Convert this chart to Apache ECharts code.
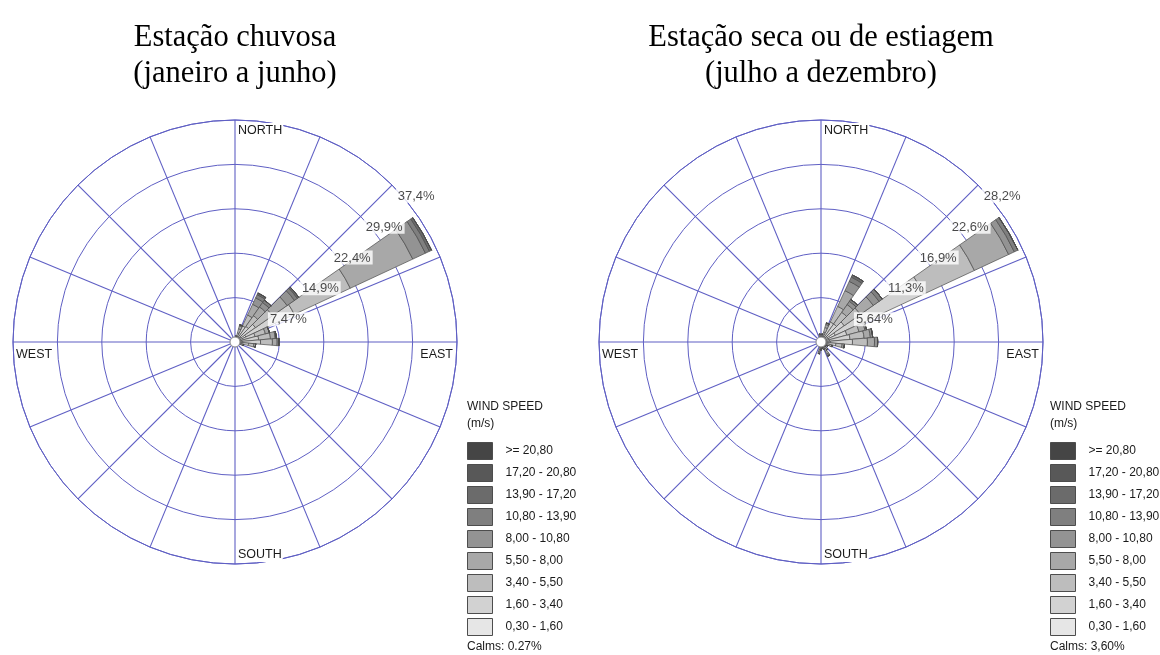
<!DOCTYPE html>
<html><head><meta charset="utf-8">
<script src="https://cdn.jsdelivr.net/npm/echarts@6/dist/echarts.min.js"></script>
<style>html,body{margin:0;padding:0;background:#fff}#c{width:1160px;height:655px}</style>
</head><body><div id="c"></div>
<script>
// ---------- DATA ----------
const directions = ['0','10','20','30','40','50','60','70','80','90','100','110','120','130','140','150','160','170',
  '180','190','200','210','220','230','240','250','260','270','280','290','300','310','320','330','340','350'];
const spokeBearings = [0,22.5,45,67.5,90,112.5,135,157.5,180,202.5,225,247.5,270,292.5,315,337.5];
const speedClasses = ['0,30 - 1,60','1,60 - 3,40','3,40 - 5,50','5,50 - 8,00','8,00 - 10,80',
  '10,80 - 13,90','13,90 - 17,20','17,20 - 20,80','>= 20,80'];
const classColors = ['#e6e6e6','#d2d2d2','#bdbdbd','#a8a8a8','#939393','#7f7f7f','#6b6b6b','#585858','#454545'];

// Left rose: rainy season (% frequency per direction, per speed class)
const leftC1 = [0.2,0.3,0.6,1.0,1.0,1.2,2.0,1.0,1.2,1.3,0.8,0.5,0.4,0.3,0.3,0.2,0.2,0.2,0.2,0.2,0.2,0.1,0.1,0.1,0.1,0.1,0.1,0.1,0.1,0.1,0.1,0.1,0.2,0.2,0.2,0.2];
const leftC2 = [0.2,0.4,1.0,2.0,2.2,3.0,9.0,2.5,2.8,3.0,1.5,0.6,0.3,0.2,0.15,0.15,0.1,0.1,0.1,0.1,0.1,0.1,0.1,0.1,0.1,0.1,0.1,0.1,0.1,0.1,0.1,0.1,0.1,0.1,0.1,0.15];
const leftC3 = [0.1,0.2,0.7,2.0,2.2,3.5,10.4,1.8,2.0,2.0,0.9,0.3,0.1,0,0,0,0,0,0,0,0,0,0,0,0,0,0,0,0,0,0,0,0,0,0,0.05];
const leftC4 = [0,0.1,0.5,2.0,1.8,3.0,11.6,0.7,0.8,0.8,0.3,0.1,0,0,0,0,0,0,0,0,0,0,0,0,0,0,0,0,0,0,0,0,0,0,0,0];
const leftC5 = [0,0,0.2,1.2,0.9,1.5,2.35,0,0.2,0.3,0,0,0,0,0,0,0,0,0,0,0,0,0,0,0,0,0,0,0,0,0,0,0,0,0,0];
const leftC6 = [0,0,0,0.6,0.5,0.6,0.75,0,0,0,0,0,0,0,0,0,0,0,0,0,0,0,0,0,0,0,0,0,0,0,0,0,0,0,0,0];
const leftC7 = [0,0,0,0.3,0,0.3,0.4,0,0,0,0,0,0,0,0,0,0,0,0,0,0,0,0,0,0,0,0,0,0,0,0,0,0,0,0,0];
const leftC8 = [0,0,0,0,0,0,0,0,0,0,0,0,0,0,0,0,0,0,0,0,0,0,0,0,0,0,0,0,0,0,0,0,0,0,0,0];
const leftC9 = [0,0,0,0,0,0,0,0,0,0,0,0,0,0,0,0,0,0,0,0,0,0,0,0,0,0,0,0,0,0,0,0,0,0,0,0];
const leftRingLabels = ['7,47%','14,9%','22,4%','29,9%','37,4%'];
const leftRingStep = 7.47;
const leftCalms = 'Calms: 0.27%';

// Right rose: dry season
const rightC1 = [0.2,0.3,0.5,0.8,0.8,1.0,2.0,1.0,1.1,1.2,0.7,0.5,0.4,0.3,0.3,0.3,0.3,0.3,0.3,0.3,0.2,0.2,0.2,0.2,0.2,0.2,0.2,0.2,0.2,0.2,0.2,0.2,0.2,0.2,0.2,0.3];
const rightC2 = [0.2,0.3,0.8,2.0,2.0,2.6,12.4,2.4,2.6,2.8,1.2,0.6,0.4,0.3,0.4,0.5,0.3,0.3,0.3,0.4,0.2,0.1,0.1,0.1,0.1,0.1,0.1,0.1,0.1,0.1,0.1,0.1,0.1,0.1,0.1,0.3];
const rightC3 = [0.2,0.2,0.6,2.2,1.8,2.5,7.1,1.6,1.8,1.9,0.8,0.3,0.2,0.2,0.3,0.5,0.2,0.2,0.2,0.3,0.1,0,0,0,0,0,0,0,0,0,0,0,0,0,0,0.2];
const rightC4 = [0,0.2,0.4,2.2,1.2,2.0,4.8,0.8,0.8,0.9,0.3,0.1,0,0,0.2,0.4,0.2,0,0.2,0.3,0,0,0,0,0,0,0,0,0,0,0,0,0,0,0,0.2];
const rightC5 = [0,0,0.2,1.3,0.5,0.9,0.8,0.2,0.3,0.4,0,0,0,0,0,0.2,0,0,0,0.2,0,0,0,0,0,0,0,0,0,0,0,0,0,0,0,0];
const rightC6 = [0,0,0,0.6,0.3,0.5,0.5,0,0,0,0,0,0,0,0,0.1,0,0,0,0,0,0,0,0,0,0,0,0,0,0,0,0,0,0,0,0];
const rightC7 = [0,0,0,0.3,0,0,0,0,0,0,0,0,0,0,0,0,0,0,0,0,0,0,0,0,0,0,0,0,0,0,0,0,0,0,0,0];
const rightC8 = [0,0,0,0,0,0,0,0,0,0,0,0,0,0,0,0,0,0,0,0,0,0,0,0,0,0,0,0,0,0,0,0,0,0,0,0];
const rightC9 = [0,0,0,0,0,0,0,0,0,0,0,0,0,0,0,0,0,0,0,0,0,0,0,0,0,0,0,0,0,0,0,0,0,0,0,0];
const rightRingLabels = ['5,64%','11,3%','16,9%','22,6%','28,2%'];
const rightRingStep = 5.64;
const rightCalms = 'Calms: 3,60%';

const leftTitle = ['Estação chuvosa', '(janeiro a junho)'];
const rightTitle = ['Estação seca ou de estiagem', '(julho a dezembro)'];
const compass = ['NORTH', 'EAST', 'SOUTH', 'WEST'];
const legendTitle = ['WIND SPEED', '(m/s)'];

// ---------- LAYOUT ----------
const CY = 342, R = 222;
const gridColor = '#5f5fc4';
const NONE = 'rgba(0,0,0,0)';
const sans = 'Liberation Sans, Arial, sans-serif';
const serif = 'Liberation Serif, Times New Roman, serif';
const labelBearing = 46;

const hiddenParts = {
  axisLine: {show: false, lineStyle: {color: NONE, width: 0, opacity: 0}},
  axisTick: {show: false, lineStyle: {color: NONE, width: 0, opacity: 0}},
  axisLabel: {show: false, color: NONE},
  splitLine: {show: false, lineStyle: {color: NONE, width: 0, opacity: 0}},
  minorTick: {show: false}, minorSplitLine: {show: false},
  splitArea: {show: false}
};

const polar = [], angleAxis = [], radiusAxis = [], series = [], legend = [], graphic = [];

function addRose(idx, cx, classes, ringStep, ringLabels, title, calms, legendLeft) {
  const pg = idx * 2, pb = idx * 2 + 1;
  const maxR = ringStep * 5;
  polar.push({center: [cx, CY], radius: R}, {center: [cx, CY], radius: R});
  angleAxis.push(Object.assign({}, hiddenParts, {
    polarIndex: pg, type: 'value', min: 0, max: 360, interval: 22.5, startAngle: 90, clockwise: true, z: 2,
    axisLine: {show: true, lineStyle: {color: gridColor, width: 1}}
  }), Object.assign({}, hiddenParts, {
    polarIndex: pb, type: 'category', data: directions, startAngle: 95, clockwise: true, z: 0,
    boundaryGap: true
  }));
  radiusAxis.push(Object.assign({}, hiddenParts, {
    polarIndex: pg, type: 'value', min: 0, max: maxR, interval: ringStep, z: 2,
    splitLine: {show: true, lineStyle: {color: gridColor, width: 1}}
  }), Object.assign({}, hiddenParts, {
    polarIndex: pb, type: 'value', min: 0, max: maxR, z: 0
  }));
  // 16 compass spokes through the polar scale
  spokeBearings.forEach(b => {
    series.push({
      type: 'line', coordinateSystem: 'polar', polarIndex: pg, silent: true, z: 2,
      symbol: 'none', data: [[0, b], [maxR, b]],
      lineStyle: {color: gridColor, width: 1.1}
    });
  });
  classes.forEach((arr, i) => {
    series.push({
      type: 'bar', coordinateSystem: 'polar', polarIndex: pb, name: speedClasses[i],
      stack: 'rose' + idx, data: arr, barCategoryGap: '0%', silent: true, z: 3,
      itemStyle: {color: classColors[i], borderColor: '#4a4a4a', borderWidth: 0.7}
    });
  });
  series.push({
    type: 'scatter', coordinateSystem: 'polar', polarIndex: pg, silent: true, z: 10,
    symbolSize: 0, itemStyle: {color: NONE},
    data: ringLabels.map((t, i) => [ringStep * (i + 1), labelBearing]),
    label: {
      show: true, position: [1, 1], align: 'left', verticalAlign: 'top',
      formatter: p => ringLabels[p.dataIndex],
      fontFamily: sans, fontSize: 13, color: '#1a1a1a',
      backgroundColor: '#ffffff', padding: [1, 2, 0, 2]
    }
  });
  legend.push({
    left: legendLeft, top: 442, padding: 0, orient: 'vertical', itemWidth: 25, itemHeight: 17, itemGap: 4,
    icon: 'rect', selectedMode: false, data: speedClasses.slice().reverse(),
    itemStyle: {borderColor: '#4d4d4d', borderWidth: 1},
    textStyle: {fontFamily: sans, fontSize: 12, color: '#1a1a1a', padding: [0, 0, 0, 8]}
  });
  graphic.push(
    {type: 'text', z: 50, style: {text: title[0], x: cx, y: 53, textAlign: 'center', textVerticalAlign: 'bottom',
      font: '30.5px ' + serif, fill: '#000'}},
    {type: 'text', z: 50, style: {text: title[1], x: cx, y: 89, textAlign: 'center', textVerticalAlign: 'bottom',
      font: '30.5px ' + serif, fill: '#000'}}
  );
  const cf = '12.5px ' + sans;
  const cstyle = (o) => Object.assign({font: cf, fill: '#1a1a1a', backgroundColor: '#fff', padding: [1, 1]}, o);
  graphic.push(
    {type: 'text', z: 60, style: cstyle({text: compass[0], x: cx + 2, y: CY - R + 3, textAlign: 'left', textVerticalAlign: 'top'})},
    {type: 'text', z: 60, style: cstyle({text: compass[1], x: cx + R - 3, y: CY + 5, textAlign: 'right', textVerticalAlign: 'top'})},
    {type: 'text', z: 60, style: cstyle({text: compass[2], x: cx + 2, y: CY + R - 17, textAlign: 'left', textVerticalAlign: 'top'})},
    {type: 'text', z: 60, style: cstyle({text: compass[3], x: cx - R + 2, y: CY + 5, textAlign: 'left', textVerticalAlign: 'top'})},
    {type: 'circle', z: 100, shape: {cx: cx, cy: CY, r: 5}, style: {fill: '#fff', stroke: '#8a8a8a', lineWidth: 1}},
    {type: 'text', z: 50, style: {text: legendTitle[0], x: legendLeft, y: 407, textVerticalAlign: 'middle', font: '12px ' + sans, fill: '#1a1a1a'}},
    {type: 'text', z: 50, style: {text: legendTitle[1], x: legendLeft, y: 424, textVerticalAlign: 'middle', font: '12px ' + sans, fill: '#1a1a1a'}},
    {type: 'text', z: 50, style: {text: calms, x: legendLeft, y: 647, textVerticalAlign: 'middle', font: '12px ' + sans, fill: '#1a1a1a'}}
  );
}

addRose(0, 235, [leftC1, leftC2, leftC3, leftC4, leftC5, leftC6, leftC7, leftC8, leftC9],
  leftRingStep, leftRingLabels, leftTitle, leftCalms, 467);
addRose(1, 821, [rightC1, rightC2, rightC3, rightC4, rightC5, rightC6, rightC7, rightC8, rightC9],
  rightRingStep, rightRingLabels, rightTitle, rightCalms, 1050);

const chart = echarts.init(document.getElementById('c'), null, {renderer: 'canvas'});
chart.setOption({
  animation: false,
  backgroundColor: '#ffffff',
  polar, angleAxis, radiusAxis, series, legend, graphic
});
</script></body></html>
